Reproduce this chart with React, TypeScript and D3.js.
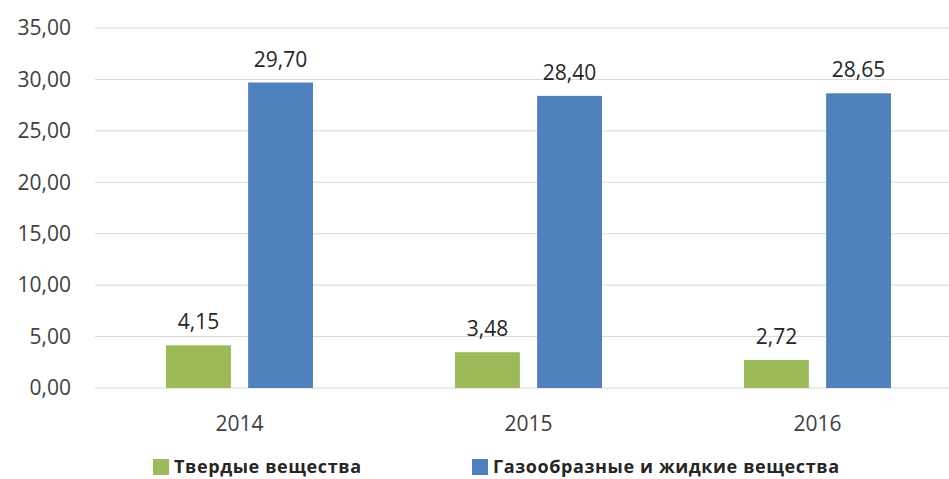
import React from "react";
import * as d3 from "d3";

const years = ["2014", "2015", "2016"];
const seriesNames = ["Твердые вещества", "Газообразные и жидкие вещества"];
const solid = [4.15, 3.48, 2.72];
const gasLiquid = [29.7, 28.4, 28.65];
const yTicks = [0, 5, 10, 15, 20, 25, 30, 35];
const colors = ["#9BBB59", "#4F81BD"];

const W = 949;
const H = 479;

export default function App() {
  const values = [solid, gasLiquid];
  const x0 = d3.scaleBand<string>().domain(years).range([95, 962]).padding(0);
  const x1 = d3
    .scaleBand<number>()
    .domain([0, 1])
    .range([-73.5, 73.5])
    .paddingInner(0.21);
  const y = d3.scaleLinear().domain([0, 35]).range([388, 28]);
  const fmt = (v: number) => v.toFixed(2).replace(".", ",");
  const font = "'Open Sans', 'Liberation Sans', sans-serif";

  return (
    <svg
      width={W}
      height={H}
      style={{ position: "absolute", left: 0, top: 0, background: "#fff" }}
      fontFamily={font}
    >
      {yTicks.map((t) => (
        <g key={t}>
          <line x1={95} x2={W} y1={y(t)} y2={y(t)} stroke="#d9d9d9" strokeWidth={1} />
          <text
            x={71}
            y={y(t)}
            dy="0.35em"
            textAnchor="end"
            fontSize={21}
            fill="#404040"
          >
            {fmt(t)}
          </text>
        </g>
      ))}
      {years.map((yr, i) => {
        const cx = (x0(yr) as number) + x0.bandwidth() / 2;
        return (
          <g key={yr}>
            {values.map((vals, s) => {
              const bx = cx + (x1(s) as number);
              const v = vals[i];
              return (
                <g key={s}>
                  <rect
                    x={bx}
                    y={y(v)}
                    width={x1.bandwidth()}
                    height={y(0) - y(v)}
                    fill={colors[s]}
                  />
                  <text
                    x={bx + x1.bandwidth() / 2}
                    y={y(v) - 16}
                    textAnchor="middle"
                    fontSize={21}
                    fill="#262626"
                  >
                    {fmt(v)}
                  </text>
                </g>
              );
            })}
            <text x={cx} y={431} textAnchor="middle" fontSize={21} fill="#404040">
              {yr}
            </text>
          </g>
        );
      })}
      {seriesNames.map((name, s) => {
        const lx = s === 0 ? 153 : 472;
        return (
          <g key={name}>
            <rect x={lx} y={459} width={16} height={16} fill={colors[s]} />
            <text
              x={lx + 21}
              y={473}
              fontSize={18}
              fontWeight="bold"
              fill="#262626"
              letterSpacing={0.6}
            >
              {name}
            </text>
          </g>
        );
      })}
    </svg>
  );
}
